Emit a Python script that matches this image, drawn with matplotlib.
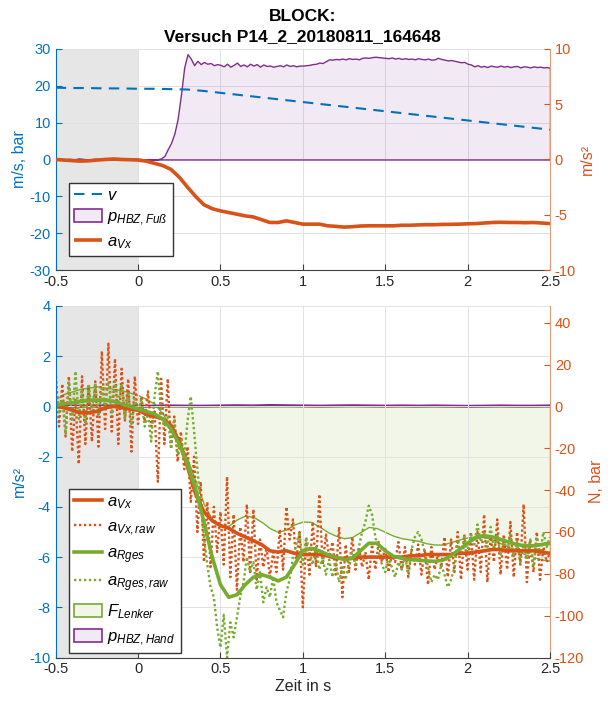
import numpy as np
import matplotlib
matplotlib.use('Agg')
import matplotlib.pyplot as plt
from matplotlib.patches import Patch

plt.rcParams['font.family'] = ['Liberation Sans', 'DejaVu Sans']
plt.rcParams['mathtext.fontset'] = 'custom'
plt.rcParams['mathtext.it'] = 'Liberation Sans:italic'
plt.rcParams['mathtext.rm'] = 'Liberation Sans'
plt.rcParams['axes.unicode_minus'] = False

C_BLUE = '#0072BD'
C_ORANGE = '#D95319'
C_GREEN = '#77AC30'
C_PURPLE = '#7E2F8E'
C_GRID = '#e2e2e2'
C_AXIS = '#404040'

TITLE = 'BLOCK:\nVersuch P14_2_20180811_164648'

# --- Oberes Diagramm: Geschwindigkeit, Fußbremsdruck, Verzögerung ---
# v in m/s, Abtastung 0.1 s
v_top = [19.5, 19.4, 19.4, 19.3, 19.3, 19.2, 19.2, 19.1, 19.0, 18.6,
         18.1, 17.6, 17.1, 16.6, 16.1, 15.6, 15.1, 14.6, 14.1, 13.6,
         13.1, 12.6, 12.1, 11.6, 11.1, 10.6, 10.1, 9.6, 9.1, 8.6,
         8.1]

# p_HBZ,Fuß in bar, Abtastung 0.02 s
p_fuss = [0.1, 0.2, 0.1, 0.0, 0.2, 0.1, 0.1, 0.3, 0.2, 0.1,
          0.0, 0.1, 0.2, 0.1, 0.0, 0.1, 0.2, 0.3, 0.1, 0.0,
          0.1, 0.2, 0.1, 0.2, 0.3, 0.2, 0.1, 0.0, 0.1, 0.1,
          0.0, 0.1, 0.3, 1.0, 2.8, 4.5, 7.0, 11.0, 17.5, 25.0,
          28.6, 27.4, 25.6, 26.8, 25.9, 26.5, 26.0, 26.2, 25.6, 25.9,
          25.7, 25.3, 26.0, 25.2, 25.7, 26.3, 25.4, 25.8, 25.3, 26.0,
          25.5, 25.9, 25.2, 25.8, 25.4, 25.5, 25.2, 25.4, 25.6, 25.3,
          25.8, 25.4, 25.6, 25.3, 25.5, 25.5, 25.6, 25.7, 25.9, 26.0,
          26.3, 26.2, 26.7, 27.2, 27.1, 27.3, 27.2, 27.4, 27.2, 27.5,
          27.3, 27.4, 27.2, 27.6, 27.7, 27.6, 27.8, 27.9, 27.8, 27.7,
          27.6, 27.5, 27.7, 27.4, 27.6, 27.3, 27.5, 27.3, 27.4, 27.2,
          27.5, 27.3, 27.2, 27.4, 27.1, 27.2, 27.6, 27.3, 27.1, 26.9,
          27.0, 26.8, 26.6, 26.4, 26.5, 26.0, 25.8, 25.3, 25.6, 25.2,
          25.4, 25.1, 25.5, 25.3, 25.2, 25.5, 25.2, 25.4, 25.1, 25.3,
          25.4, 25.0, 25.3, 25.2, 25.0, 25.3, 25.1, 25.2, 25.0, 25.1,
          24.9]

# a_Vx in m/s², Abtastung 0.05 s
a_vx_top = [0.0, -0.05, -0.1, -0.15, -0.12, -0.05, 0.0, 0.05, 0.0, -0.02,
            -0.05, -0.15, -0.35, -0.55, -0.9, -1.6, -2.5, -3.35, -4.1, -4.45,
            -4.65, -4.8, -4.95, -5.1, -5.2, -5.45, -5.7, -5.7, -5.55, -5.7,
            -5.85, -5.85, -5.85, -6.0, -6.05, -6.12, -6.08, -6.02, -6.0, -6.0,
            -6.0, -6.0, -5.95, -5.95, -5.92, -5.9, -5.9, -5.87, -5.87, -5.85,
            -5.82, -5.8, -5.75, -5.7, -5.68, -5.7, -5.7, -5.72, -5.7, -5.75,
            -5.8]

# --- Unteres Diagramm: Verzögerungen, Lenkerkraft, Handbremsdruck ---
# gefilterte Signale, Abtastung 0.05 s
a_vx = [0.0, -0.05, -0.15, -0.25, -0.25, -0.2, -0.05, 0.0, -0.05, -0.1,
        -0.15, -0.3, -0.4, -0.5, -0.75, -1.4, -2.4, -3.5, -4.2, -4.55,
        -4.75, -4.85, -5.05, -5.2, -5.35, -5.5, -5.75, -5.8, -5.75, -5.85,
        -5.9, -5.9, -5.9, -5.95, -6.05, -6.05, -6.05, -6.0, -6.0, -6.0,
        -6.0, -6.0, -6.0, -5.95, -5.95, -5.9, -5.9, -5.9, -5.9, -5.85,
        -5.85, -5.8, -5.75, -5.7, -5.7, -5.75, -5.75, -5.75, -5.75, -5.8,
        -5.85]

a_rges = [0.05, 0.1, 0.15, 0.2, 0.25, 0.25, 0.25, 0.2, 0.1, 0.0,
          -0.1, -0.2, -0.3, -0.5, -0.9, -1.5, -2.3, -3.3, -4.6, -6.0,
          -7.1, -7.6, -7.5, -7.1, -6.8, -6.7, -6.8, -6.95, -6.8, -6.3,
          -5.75, -5.65, -5.75, -5.9, -6.0, -6.1, -6.05, -5.75, -5.45, -5.45,
          -5.75, -5.97, -6.05, -6.1, -6.12, -6.15, -6.17, -6.12, -5.95, -5.7,
          -5.45, -5.22, -5.15, -5.2, -5.3, -5.4, -5.5, -5.55, -5.55, -5.5,
          -5.45]

# F_Lenker in N
f_lenker = [3.6, 6.0, 7.2, 8.4, 9.0, 9.6, 9.0, 8.4, 7.8, 6.6,
            5.4, 3.6, 1.2, -3.6, -9.6, -16.8, -25.2, -36.0, -46.8, -54.0,
            -57.0, -57.0, -54.0, -52.2, -52.8, -55.2, -58.2, -60.0, -58.8, -56.4,
            -55.0, -55.2, -57.4, -60.0, -61.8, -63.0, -62.4, -60.0, -57.6, -58.2,
            -60.0, -61.8, -63.0, -63.6, -64.2, -65.4, -66.0, -66.0, -64.8, -63.6,
            -62.6, -62.2, -62.4, -63.6, -65.4, -67.2, -69.0, -70.8, -72.0, -73.2,
            -73.8]

# p_HBZ,Hand in bar, Abtastung 0.1 s
p_hand = [0.2, 0.1, 0.2, 0.3, 0.2, 0.1, 0.2, 0.3, 0.2, 0.2,
          0.3, 0.4, 0.3, 0.5, 0.4, 0.3, 0.2, 0.3, 0.4, 0.3,
          0.2, 0.3, 0.2, 0.3, 0.2, 0.1, 0.2, 0.3, 0.2, 0.2,
          0.3]

# Rohsignale, Abtastung 0.02 s
a_vx_raw = [1.4, -0.8, 0.9, -1.2, 1.2, -1.8, 0.3, -2.3, 1.2, -1.5,
            0.8, -1.4, 1.0, -1.6, 2.2, -0.9, 2.5, -1.0, 1.9, -1.5,
            1.5, -0.6, 1.1, -1.8, 1.2, -0.7, 0.4, -0.6, 0.6, -0.8,
            -0.2, -3.0, 1.1, -1.5, 1.1, -1.7, -0.4, -2.2, -1.0, -2.5,
            -1.6, -3.8, -2.0, -5.0, -3.0, -6.2, -3.8, -6.4, -4.0, -5.8,
            -4.2, -6.3, -2.8, -6.8, -4.3, -7.3, -4.8, -6.2, -3.9, -6.6,
            -4.1, -6.9, -5.3, -6.4, -5.6, -6.8, -5.8, -6.6, -4.9, -6.5,
            -4.0, -5.3, -4.5, -6.2, -5.0, -8.0, -5.3, -6.7, -4.6, -6.4,
            -3.5, -6.3, -5.1, -6.0, -5.4, -6.7, -4.8, -7.6, -5.5, -6.6,
            -5.2, -6.5, -5.6, -6.4, -5.8, -6.9, -5.5, -6.5, -5.4, -6.2,
            -5.6, -6.6, -5.9, -6.2, -5.4, -6.5, -5.6, -6.8, -5.7, -6.3,
            -5.5, -6.7, -5.7, -7.1, -5.6, -6.5, -5.9, -6.4, -5.2, -6.8,
            -5.3, -6.6, -5.0, -6.9, -5.1, -6.5, -5.0, -6.9, -5.0, -6.6,
            -4.3, -7.0, -5.2, -6.2, -4.5, -6.7, -5.1, -6.5, -4.6, -6.8,
            -5.0, -6.3, -3.9, -7.0, -5.3, -6.6, -5.0, -6.9, -5.6, -6.2,
            -5.8]

a_rges_raw = [0.8, -0.3, 0.3, -1.1, 1.0, -0.6, 1.4, -0.5, 0.6, -0.7,
              0.9, -0.2, 0.9, -0.4, 0.7, 0.0, 1.0, -0.3, 1.0, 0.1,
              0.9, -0.5, 0.6, -0.7, 0.3, -0.2, 0.3, -0.8, -0.3, -1.4,
              0.4, 1.4, -0.2, -0.8, -0.4, -1.6, -0.6, -1.9, -1.3, -2.0,
              -0.6, 0.4, -1.0, -2.5, -3.8, -5.2, -6.3, -7.2, -7.6, -8.8,
              -9.6, -8.3, -10.0, -8.6, -9.2, -8.4, -7.6, -7.0, -6.0, -6.6,
              -6.2, -7.3, -6.6, -7.8, -7.2, -7.6, -6.8, -7.8, -8.1, -8.4,
              -7.4, -6.9, -6.0, -5.5, -5.0, -6.3, -5.2, -5.8, -6.3, -5.6,
              -6.5, -6.0, -6.7, -6.1, -6.8, -6.2, -7.0, -6.4, -6.9, -6.2,
              -5.8, -6.3, -5.6, -5.0, -4.6, -3.95, -4.3, -5.2, -5.8, -6.3,
              -6.6, -6.0, -6.4, -6.8, -6.2, -6.5, -6.0, -6.6, -5.7, -5.2,
              -5.0, -5.3, -5.8, -6.4, -7.0, -6.7, -6.9, -6.3, -6.7, -7.2,
              -6.9, -6.4, -5.4, -5.9, -5.2, -5.8, -5.1, -5.5, -4.7, -5.4,
              -5.0, -5.6, -4.8, -5.7, -5.1, -5.9, -5.3, -5.8, -5.1, -6.0,
              -5.4, -6.2, -5.5, -6.1, -5.3, -6.4, -5.2, -5.9, -5.0, -5.6,
              -5.2]

T0, T1 = -0.5, 2.5

FILL_PURPLE = (0.494, 0.184, 0.557, 0.1)
FILL_GREEN = (0.467, 0.675, 0.188, 0.1)

LEGEND_KW = dict(loc='upper left', borderaxespad=0, fontsize=12,
                 handlelength=1.7, handleheight=0.8, handletextpad=0.3,
                 borderpad=0.3, fancybox=False,
                 framealpha=1, edgecolor='#333333')


def zeit(values):
    return np.linspace(T0, T1, len(values))


def style_axes(ax, left_color, right_ax, right_color):
    ax.spines['top'].set_visible(False)
    ax.spines['right'].set_visible(False)
    ax.spines['left'].set_color(left_color)
    ax.spines['bottom'].set_color(C_AXIS)
    ax.tick_params(axis='y', colors=left_color, direction='in', length=4, labelsize=10.5)
    ax.tick_params(axis='x', colors=C_AXIS, labelcolor='#262626', direction='in',
                   length=4, labelsize=10.5)
    ax.grid(True, color=C_GRID, lw=0.7)
    ax.set_axisbelow(True)
    for s in ('top', 'left', 'bottom'):
        right_ax.spines[s].set_visible(False)
    right_ax.spines['right'].set_color('#e59a77')
    right_ax.tick_params(axis='y', colors=right_color, direction='in', length=4,
                         labelsize=10.5)
    ax.set_xlim(T0, T1)
    ax.set_xticks([-0.5, 0, 0.5, 1, 1.5, 2, 2.5])
    ax.set_xticklabels(['-0.5', '0', '0.5', '1', '1.5', '2', '2.5'])


fig = plt.figure(figsize=(6.1, 7.07), dpi=100)

# ---------------- oben ----------------
ax1 = fig.add_axes([0.0913, 0.6181, 0.8103, 0.3126])
ax1r = ax1.twinx()

ax1.axvspan(T0, 0, color='#e6e6e6', lw=0, zorder=0)
ax1.fill_between(zeit(p_fuss), 0, p_fuss, facecolor=FILL_PURPLE,
                 edgecolor=C_PURPLE, lw=1.0, zorder=2)
line_v, = ax1.plot(zeit(v_top), v_top, color=C_BLUE, lw=1.5, dashes=(5, 3.5), zorder=3)
line_a, = ax1r.plot(zeit(a_vx_top), a_vx_top, color=C_ORANGE, lw=2.6,
                    solid_capstyle='butt')

ax1.set_ylim(-30, 30)
ax1.set_yticks([-30, -20, -10, 0, 10, 20, 30])
ax1r.set_ylim(-10, 10)
ax1r.set_yticks([-10, -5, 0, 5, 10])
style_axes(ax1, C_BLUE, ax1r, C_ORANGE)
ax1.set_ylabel('m/s, bar', color=C_BLUE, fontsize=11.5, labelpad=2)
ax1r.set_ylabel('m/s²', color=C_ORANGE, fontsize=11.5, labelpad=3)
ax1.set_title(TITLE, fontweight='bold', fontsize=12.5, pad=6, linespacing=1.4)

patch_fuss = Patch(facecolor=FILL_PURPLE, edgecolor=C_PURPLE, lw=1.2)
ax1r.legend([line_v, patch_fuss, line_a],
            [r'$v$', r'$p_{HBZ,Fuß}$', r'$a_{Vx}$'],
            bbox_to_anchor=(0.027, 0.394), labelspacing=0.38, **LEGEND_KW)

# ---------------- unten ----------------
ax2 = fig.add_axes([0.0913, 0.07, 0.8103, 0.4972])
ax2r = ax2.twinx()
ax2.set_zorder(ax2r.get_zorder() + 1)
ax2.patch.set_visible(False)

ax2r.axvspan(T0, 0, color='#e6e6e6', lw=0, zorder=0)
ax2r.fill_between(zeit(f_lenker), 0, f_lenker, facecolor=FILL_GREEN,
                  edgecolor=C_GREEN, lw=1.0, zorder=2)
ax2r.fill_between(zeit(p_hand), 0, p_hand, facecolor=FILL_PURPLE, lw=0, zorder=3)
ax2r.plot(zeit(p_hand), p_hand, color=C_PURPLE, lw=2.0, zorder=4)

l_vx_raw, = ax2.plot(zeit(a_vx_raw), a_vx_raw, color=C_ORANGE, lw=1.7,
                     linestyle=(0, (1, 1.1)), dash_capstyle='butt')
l_rg_raw, = ax2.plot(zeit(a_rges_raw), a_rges_raw, color=C_GREEN, lw=1.7,
                     linestyle=(0, (1, 1.1)), dash_capstyle='butt')
l_vx, = ax2.plot(zeit(a_vx), a_vx, color=C_ORANGE, lw=2.6)
l_rg, = ax2.plot(zeit(a_rges), a_rges, color=C_GREEN, lw=2.6)

ax2.set_ylim(-10, 4)
ax2.set_yticks([-10, -8, -6, -4, -2, 0, 2, 4])
ax2r.set_ylim(-120, 48)
ax2r.set_yticks([-120, -100, -80, -60, -40, -20, 0, 20, 40])
style_axes(ax2, C_BLUE, ax2r, C_ORANGE)
ax2.set_ylabel('m/s²', color=C_BLUE, fontsize=11.5, labelpad=2)
ax2r.set_ylabel('N, bar', color=C_ORANGE, fontsize=11.5, labelpad=3)
ax2.set_xlabel('Zeit in s', fontsize=11.5, color='#262626', labelpad=2)

patch_lenker = Patch(facecolor=FILL_GREEN, edgecolor=C_GREEN, lw=1.2)
patch_hand = Patch(facecolor=FILL_PURPLE, edgecolor=C_PURPLE, lw=1.2)
ax2.legend([l_vx, l_vx_raw, l_rg, l_rg_raw, patch_lenker, patch_hand],
           [r'$a_{Vx}$', r'$a_{Vx,raw}$', r'$a_{Rges}$', r'$a_{Rges,raw}$',
            r'$F_{Lenker}$', r'$p_{HBZ,Hand}$'],
           bbox_to_anchor=(0.027, 0.479), labelspacing=0.5, **LEGEND_KW)

fig.savefig('out.png', dpi=100)
